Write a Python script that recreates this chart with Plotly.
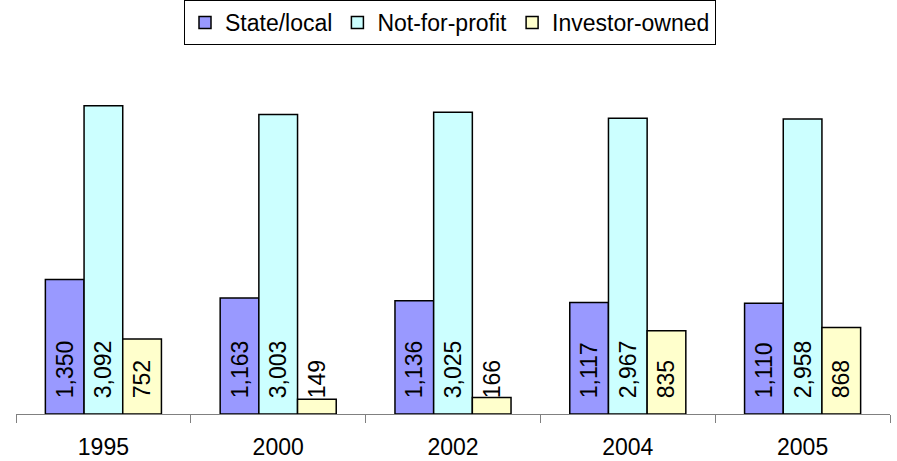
import plotly.graph_objects as go

years = ["1995", "2000", "2002", "2004", "2005"]
state_local = [1350, 1163, 1136, 1117, 1110]
not_for_profit = [3092, 3003, 3025, 2967, 2958]
investor_owned = [752, 149, 166, 835, 868]

series = [
    ("State/local", state_local, "#9999FF"),
    ("Not-for-profit", not_for_profit, "#CCFFFF"),
    ("Investor-owned", investor_owned, "#FFFFCC"),
]

FONT = "Liberation Sans, Arial, sans-serif"
fig = go.Figure()
for name, vals, color in series:
    fig.add_trace(go.Bar(
        name=name, x=years, y=vals,
        marker=dict(color=color, line=dict(color="black", width=1.5)),
        text=[f"{v:,}" for v in vals],
        texttemplate="\u00a0\u00a0%{text}",
        textposition="inside",
        insidetextanchor="start",
        textangle=-90,
        constraintext="none",
        textfont=dict(family=FONT, size=23, color="black"),
        cliponaxis=False,
    ))

fig.update_layout(
    width=897, height=461,
    margin=dict(l=16, r=7, t=65, b=47, autoexpand=False),
    barmode="group", bargap=0.336, bargroupgap=0,
    plot_bgcolor="white", paper_bgcolor="white",
    font=dict(family=FONT, size=23, color="black"),
    showlegend=True,
    legend=dict(
        orientation="h", xref="container", yref="container",
        x=450 / 897, xanchor="center", y=1.0, yanchor="top",
        bordercolor="black", borderwidth=1, bgcolor="white",
        font=dict(family=FONT, size=23, color="black"),
        itemwidth=30, traceorder="normal",
    ),
    xaxis=dict(
        showline=True, linecolor="#808080", linewidth=1.2,
        ticks="outside", tickson="boundaries", ticklen=8, tickcolor="#808080", tickwidth=1.2,
        tickfont=dict(family=FONT, size=23, color="black"),
        ticklabelstandoff=12, automargin=False,
        showgrid=False,
    ),
    yaxis=dict(
        range=[0, 3500], showticklabels=False, showgrid=False,
        zeroline=False, showline=False, ticks="", automargin=False,
    ),
)

fig.write_html("out.html")
